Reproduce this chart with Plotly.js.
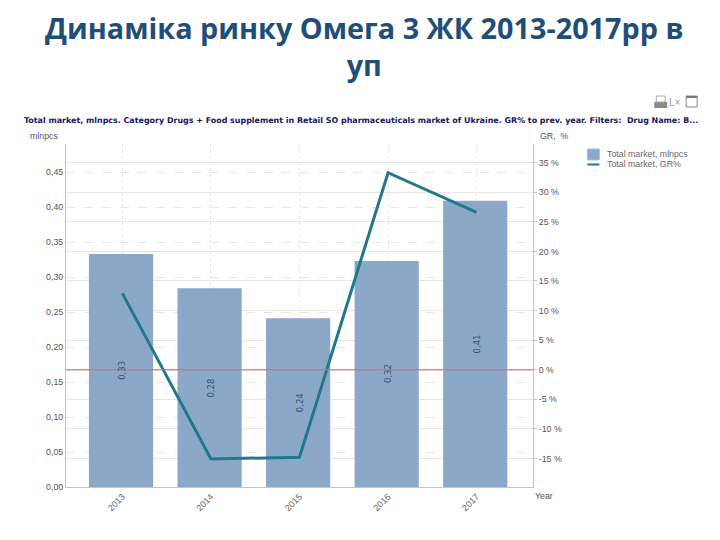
<!DOCTYPE html>
<html><head><meta charset="utf-8">
<script src="https://cdn.plot.ly/plotly-3.0.1.min.js"></script>
<style>html,body{margin:0;padding:0;background:#fff}</style>
</head><body><div id="c" style="width:720px;height:540px"></div>
<script>
const years=['2013','2014','2015','2016','2017'];
const marketMln=[0.333,0.284,0.241,0.323,0.409];
const growthPct=[12.9,-15.1,-14.8,33.3,26.6];
const barLabels=['0,33','0,28','0,24','0,32','0,41'];
const leftTicks=[0,0.05,0.10,0.15,0.20,0.25,0.30,0.35,0.40,0.45];
const leftLabels=['0,00','0,05','0,10','0,15','0,20','0,25','0,30','0,35','0,40','0,45'];
const rightTicks=[-15,-10,-5,0,5,10,15,20,25,30,35];
const rightLabels=['-15 %','-10 %','-5 %','0 %','5 %','10 %','15 %','20 %','25 %','30 %','35 %'];
const seriesNames=['Total market, mlnpcs','Total market, GR%'];
const gridCol='#e6e6e6', axisCol='#c4c4c4', tickCol='#555';
const L=65.5,R=533.5,T=144,B=487;
const px=x=>(x-L)/(R-L), py=y=>(B-y)/(B-T);
const note=(x,y,text,size,color,family)=>({xref:'paper',yref:'paper',x:px(x),y:py(y),xanchor:'left',yanchor:'middle',showarrow:false,
  text:text,font:{size:size,color:color,family:family||'"Liberation Sans",Arial,sans-serif'}});
const labelAnn=years.map((yr,i)=>({x:i,xref:'x',y:marketMln[i]/2,yref:'y',text:barLabels[i],showarrow:false,textangle:-90,
  font:{family:'"DejaVu Sans",sans-serif',size:8.5,color:'#3c4f6b'}}));
const box=(x0,x1,y0,y1,fill,line)=>({type:'rect',xref:'paper',yref:'paper',x0:px(x0),x1:px(x1),y0:py(y0),y1:py(y1),
  fillcolor:fill,line:line||{width:0}});
const layout={
  width:720,height:540,showlegend:false,paper_bgcolor:'#fff',plot_bgcolor:'#fff',
  font:{family:'"Liberation Sans",Arial,sans-serif',color:tickCol},
  margin:{l:L,r:720-R,t:T,b:540-B,pad:0},
  title:{text:'Динаміка ринку Омега 3 ЖК 2013-2017рр в<br>уп',x:0.506,xanchor:'center',y:0.928,yanchor:'top',
    font:{family:'"Open Sans",sans-serif',size:28.8,color:'#1f4e79',weight:700}},
  xaxis:{type:'category',categoryorder:'array',categoryarray:years,range:[-0.637,4.637],tickangle:-45,
    tickfont:{size:9,color:'#666'},showgrid:true,gridcolor:gridCol,griddash:'dot',gridwidth:1,
    showline:true,linecolor:axisCol,linewidth:1,ticks:'',ticklen:0,zeroline:false},
  yaxis:{range:[0,0.49],tickmode:'array',tickvals:leftTicks,ticktext:leftLabels,tickfont:{size:8.8,color:tickCol},
    showgrid:true,gridcolor:gridCol,griddash:'dash',showline:true,linecolor:axisCol,zeroline:false,ticks:'',automargin:false},
  yaxis2:{overlaying:'y',side:'right',range:[-19.83,38.16],tickmode:'array',tickvals:rightTicks,ticktext:rightLabels,
    tickfont:{size:8.8,color:tickCol},showgrid:true,gridcolor:gridCol,griddash:'solid',showline:true,linecolor:axisCol,
    zeroline:false,ticks:'outside',ticklen:3,tickcolor:axisCol,automargin:false},
  shapes:[
    {type:'line',xref:'paper',x0:0,x1:1,yref:'y2',y0:0,y1:0,layer:'above',line:{color:'rgba(205,110,120,0.75)',width:1.5}},
    box(588,600,149,160,'#8ba8c9',{color:'#a9bdd5',width:1}),
    {type:'line',xref:'paper',yref:'paper',x0:px(588),x1:px(600),y0:py(164.5),y1:py(164.5),line:{color:'#20788f',width:2}},
    box(655,668,102,108,'#8a8a8a'),
    box(657,666,96,102,'rgba(0,0,0,0)',{color:'#aaa',width:1}),
    box(687,698,96,107,'rgba(0,0,0,0)',{color:'#8a8a8a',width:1}),
    box(687,698,96,98,'#777')
  ],
  annotations:labelAnn.concat([
    note(21,120.5,'<b>Total market, mlnpcs. Category Drugs + Food supplement in Retail SO pharmaceuticals market of Ukraine. GR% to prev. year. Filters:  Drug Name: B...</b>',7.95,'#16165c','"DejaVu Sans",sans-serif'),
    note(27,136,'mlnpcs',8.8,tickCol),
    note(539,136,'GR,  %',8.8,tickCol),
    note(533,496,'Year',8.8,tickCol),
    note(606,153.5,seriesNames[0],8.8,'#666'),
    note(606,164,seriesNames[1],8.8,'#666'),
    note(668,102,'L×',10,'#999')
  ])
};
const traces=[
  {type:'bar',name:seriesNames[0],x:years,y:marketMln,width:0.725,offset:-0.378,marker:{color:'#8ba8c9'},yaxis:'y',hoverinfo:'skip'},
  {type:'scatter',mode:'lines',name:seriesNames[1],x:years,y:growthPct,yaxis:'y2',line:{color:'#20788f',width:3},hoverinfo:'skip'}
];
Plotly.newPlot('c',traces,layout,{displayModeBar:false,staticPlot:true});
</script></body></html>
